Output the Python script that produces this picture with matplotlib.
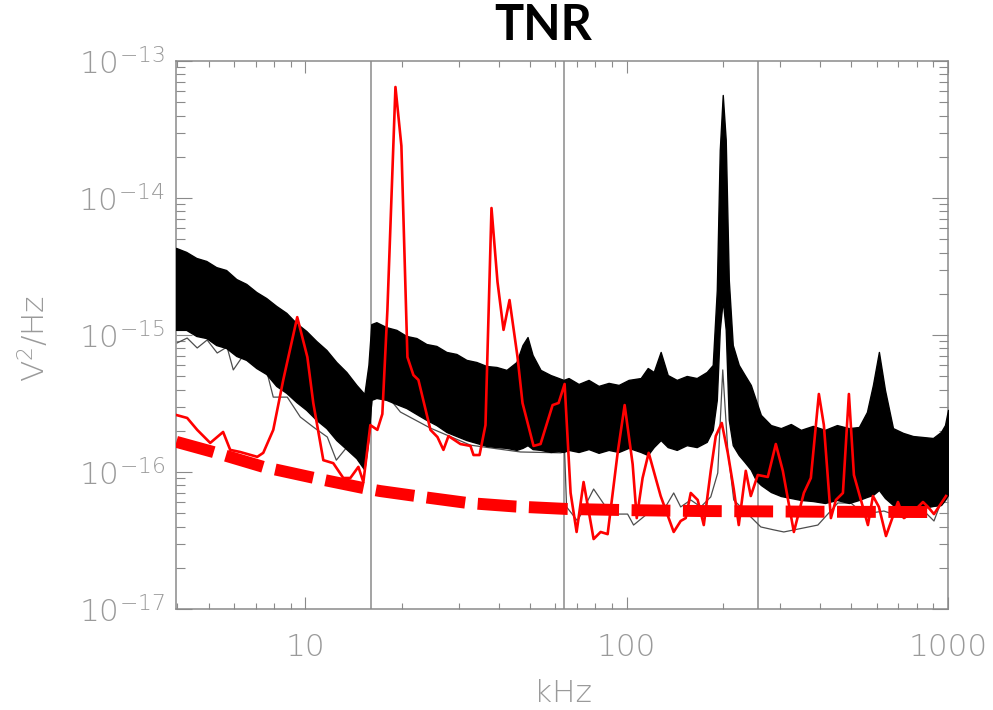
import matplotlib
matplotlib.use("Agg")
import matplotlib.pyplot as plt
from matplotlib.ticker import LogLocator, NullFormatter

# frequencies in kHz, power spectral densities in V^2/Hz

# envelope of the black bundle of spectra
band_freq = [3.96, 4.26, 4.58, 4.92, 5.28, 5.67, 6.10, 6.55, 7.04, 7.56, 8.12, 8.73,
             9.38, 10.07, 10.82, 11.63, 12.49, 13.42, 14.42, 15.27, 15.72, 16.05,
             16.64, 17.88, 19.21, 20.63, 22.17, 23.82, 25.58, 27.49, 29.53, 31.73, 34.08,
             36.62, 39.36, 42.28, 45.42, 47.42, 49.16, 50.96, 53.96, 57.98, 61.41, 63.65,
             65.95, 70.86, 76.13, 81.79, 87.87, 94.43, 101.4, 110.6, 116.3, 121.4, 127.6,
             134.2, 143.2, 153.8, 165.2, 177.5, 185.3, 190.8, 194.9, 199.1, 203.4, 207.9,
             213.9, 223.3, 233.1, 243.4, 252.3,
             261.6, 281.0, 301.9, 324.3, 348.4, 379.7, 414.0, 451.2, 491.6, 528.2, 559.4,
             584.0, 609.5, 636.6, 674.2, 724.2, 778.0, 835.9, 898.0, 951.0, 978.8, 1000]
band_upper = [4.32e-15, 4.04e-15, 3.65e-15, 3.47e-15, 3.13e-15, 2.98e-15, 2.56e-15, 2.36e-15,
              2.06e-15, 1.86e-15, 1.63e-15, 1.45e-15, 1.22e-15, 1.07e-15, 9.04e-16, 7.78e-16,
              6.35e-16, 5.37e-16, 4.32e-16, 3.71e-16, 6.04e-16, 1.20e-15,
              1.24e-15, 1.14e-15, 1.09e-15, 9.84e-16, 9.50e-16, 8.59e-16, 8.32e-16, 7.52e-16,
              7.27e-16, 6.58e-16, 6.35e-16, 5.94e-16, 5.84e-16, 5.56e-16, 6.35e-16, 8.45e-16,
              9.66e-16, 7.15e-16, 5.56e-16, 5.10e-16, 4.85e-16, 4.70e-16,
              4.85e-16, 4.39e-16, 4.70e-16, 4.25e-16, 4.47e-16, 4.32e-16, 4.70e-16, 4.85e-16,
              5.74e-16, 5.37e-16, 7.52e-16, 5.10e-16, 4.70e-16, 5.02e-16, 4.85e-16, 5.37e-16,
              6.04e-16, 2.13e-15, 2.24e-14, 5.65e-14, 2.65e-14, 2.52e-15, 8.45e-16, 6.04e-16,
              5.10e-16, 4.32e-16, 3.36e-16,
              2.61e-16, 2.20e-16, 2.09e-16, 2.24e-16, 2.03e-16, 2.17e-16, 2.03e-16, 2.20e-16,
              2.09e-16, 2.13e-16, 2.74e-16, 4.32e-16, 7.52e-16, 3.97e-16, 2.09e-16, 1.93e-16,
              1.83e-16, 1.80e-16, 1.77e-16, 1.96e-16, 2.20e-16, 2.84e-16]
band_lower = [1.09e-15, 1.09e-15, 9.84e-16, 9.50e-16, 8.45e-16, 8.04e-16, 7.03e-16, 6.58e-16,
              5.74e-16, 5.19e-16, 4.25e-16, 3.78e-16, 3.24e-16, 2.84e-16, 2.40e-16, 2.09e-16,
              1.71e-16, 1.47e-16, 1.26e-16, 1.04e-16, 1.71e-16, 3.36e-16,
              3.47e-16, 3.36e-16, 3.13e-16, 2.93e-16, 2.65e-16, 2.40e-16, 2.20e-16, 1.96e-16,
              1.83e-16, 1.71e-16, 1.63e-16, 1.55e-16, 1.52e-16, 1.50e-16, 1.45e-16, 1.50e-16,
              1.57e-16, 1.47e-16, 1.45e-16, 1.40e-16, 1.42e-16, 1.40e-16,
              1.45e-16, 1.40e-16, 1.47e-16, 1.38e-16, 1.45e-16, 1.40e-16, 1.50e-16, 1.40e-16,
              1.33e-16, 1.52e-16, 1.71e-16, 1.52e-16, 1.45e-16, 1.57e-16, 1.52e-16, 1.66e-16,
              2.03e-16, 3.36e-16, 1.09e-15, 1.80e-15, 1.09e-15, 2.40e-16, 1.57e-16, 1.33e-16,
              1.18e-16, 1.04e-16, 8.75e-17,
              8.04e-17, 7.15e-17, 6.68e-17, 6.46e-17, 6.25e-17, 6.14e-17, 5.94e-17, 6.25e-17,
              5.94e-17, 6.25e-17, 6.58e-17, 6.80e-17, 7.39e-17, 6.46e-17, 5.74e-17, 5.56e-17,
              5.65e-17, 5.46e-17, 5.65e-17, 5.74e-17, 6.25e-17, 6.80e-17]

# single quiet spectrum (grey)
grey_freq = [3.99, 4.29, 4.61, 4.95, 5.32, 5.71, 5.97, 6.36, 6.89, 7.61, 7.95, 8.79, 9.65,
             10.59, 11.71, 12.49, 13.81, 15.16, 15.72, 16.17, 18.01, 19.77, 24.52, 32.66,
             46.75, 62.29, 64.12, 65.03, 70.36, 78.93, 89.18, 100.7, 105.1, 118.8, 130.4,
             140.1, 147.3, 158.3, 170.1, 182.7, 192.1, 199.1, 206.4, 215.4, 226.5, 243.4,
             261.6, 287.1, 308.4, 393.6, 454.2, 498.7, 547.4, 631.9, 729.4, 842.0, 904.4, 985.8]
grey_psd = [8.75e-16, 9.50e-16, 8.04e-16, 9.20e-16, 7.39e-16, 8.17e-16, 5.56e-16, 6.90e-16,
            6.25e-16, 5.28e-16, 3.52e-16, 3.52e-16, 2.52e-16, 2.13e-16, 1.80e-16, 1.22e-16,
            1.63e-16, 1.22e-16, 1.71e-16, 3.52e-16, 3.59e-16, 2.74e-16, 2.09e-16, 1.57e-16,
            1.40e-16, 1.38e-16, 1.40e-16, 5.56e-17, 4.39e-17, 7.51e-17, 4.93e-17, 4.93e-17,
            4.10e-17, 5.19e-17, 5.28e-17, 7.03e-17, 5.56e-17, 6.25e-17, 5.56e-17, 6.58e-17,
            9.84e-17, 5.56e-16, 1.45e-16, 6.25e-17, 5.56e-17, 4.70e-17, 3.97e-17, 3.78e-17,
            3.65e-17, 4.10e-17, 5.94e-17, 5.94e-17, 4.93e-17, 5.19e-17, 4.61e-17, 5.19e-17,
            4.39e-17, 7.51e-17]

# red spectrum
red_freq = [3.96, 4.29, 4.61, 5.06, 5.55, 5.84, 6.27, 7.09, 7.40, 7.95, 8.54, 9.44, 10.15,
            10.59, 11.38, 12.22, 13.13, 13.81, 14.63, 15.16, 15.94, 16.76, 17.37, 18.01,
            19.08, 19.91, 20.79, 21.70, 22.49, 24.52, 25.78, 26.91, 27.90, 30.40, 32.66,
            33.38, 34.85, 36.37, 37.97, 39.64, 41.39, 43.21, 45.76, 47.42, 51.32, 53.96,
            58.83, 61.41, 64.12, 66.93, 69.87, 73.45, 78.93, 82.99, 87.27, 93.76, 98.58,
            104.4, 107.5, 112.1, 117.1, 123.1, 127.6, 140.1, 147.3, 152.7, 158.3, 166.4,
            173.8, 182.7, 189.4, 197.7, 206.4, 215.4, 223.3, 234.8, 243.4, 255.9, 275.0,
            291.2, 306.2, 331.4, 356.0, 374.3, 396.4, 410.9, 432.1, 447.9, 471.0, 491.6,
            509.6, 535.8, 563.4, 584.0, 609.5, 641.2, 698.7, 729.4, 783.8, 835.9, 866.3,
            904.4, 985.8]
red_psd = [2.61e-16, 2.48e-16, 2.03e-16, 1.63e-16, 1.96e-16, 1.45e-16, 1.40e-16, 1.29e-16,
           1.38e-16, 2.03e-16, 4.70e-16, 1.35e-15, 6.90e-16, 3.19e-16, 1.22e-16, 1.16e-16,
           9.04e-17, 9.04e-17, 1.09e-16, 8.45e-17, 2.20e-16, 2.03e-16, 2.65e-16, 1.52e-15,
           6.46e-14, 2.40e-14, 6.90e-16, 5.10e-16, 4.70e-16, 2.03e-16, 1.80e-16, 1.45e-16,
           1.83e-16, 1.60e-16, 1.55e-16, 1.33e-16, 1.33e-16, 2.20e-16, 8.45e-15, 2.44e-15,
           1.09e-15, 1.80e-15, 6.90e-16, 3.19e-16, 1.55e-16, 1.60e-16, 3.08e-16, 3.19e-16,
           4.39e-16, 7.03e-17, 3.65e-17, 8.45e-17, 3.24e-17, 3.65e-17, 3.52e-17, 1.38e-16,
           3.08e-16, 1.14e-16, 4.61e-17, 9.04e-17, 1.38e-16, 9.04e-17, 6.68e-17, 3.65e-17,
           4.39e-17, 4.61e-17, 7.03e-17, 6.25e-17, 4.10e-17, 1.02e-16, 1.83e-16, 2.28e-16,
           1.38e-16, 7.51e-17, 4.10e-17, 1.02e-16, 6.68e-17, 9.51e-17, 9.20e-17, 1.60e-16,
           1.02e-16, 3.65e-17, 7.03e-17, 9.04e-17, 3.71e-16, 2.20e-16, 4.61e-17, 6.25e-17,
           7.03e-17, 3.71e-16, 9.51e-17, 6.25e-17, 4.10e-17, 6.68e-17, 5.56e-17, 3.41e-17,
           6.04e-17, 4.61e-17, 5.19e-17, 6.04e-17, 5.56e-17, 4.93e-17, 6.68e-17]

# red dashed noise floor
floor_freq = [3.97, 5.17, 7.40, 10.7, 15.2, 17.1, 24.0, 32.0, 45.0, 65.5, 100, 170, 400, 940]
floor_psd = [1.66e-16, 1.40e-16, 1.09e-16, 9.03e-17, 7.63e-17, 7.26e-17, 6.50e-17, 5.94e-17,
             5.60e-17, 5.37e-17, 5.27e-17, 5.19e-17, 5.13e-17, 5.10e-17]

band_edges = [16, 64, 256]

x_ticks = [10, 100, 1000]
x_labels = ['10', '100', '1000']
y_ticks = [1e-17, 1e-16, 1e-15, 1e-14, 1e-13]
y_labels = [r'$10^{-17}$', r'$10^{-16}$', r'$10^{-15}$', r'$10^{-14}$', r'$10^{-13}$']

label_grey = '#9a9a9a'
axis_grey = '#8a8a8a'

plt.rcParams['font.family'] = ['DejaVu Sans']
plt.rcParams['font.weight'] = 'light'
plt.rcParams['mathtext.fontset'] = 'custom'
plt.rcParams['mathtext.rm'] = 'DejaVu Sans:light'
plt.rcParams['mathtext.it'] = 'DejaVu Sans:light'

fig = plt.figure(figsize=(9.93, 7.10), dpi=100)
ax = fig.add_axes([176 / 993, 1 - 609 / 710, 772 / 993, 548 / 710])
ax.set_xscale('log')
ax.set_yscale('log')

for f in band_edges:
    ax.axvline(f, color=axis_grey, lw=1.1, zorder=1)

ax.plot(grey_freq, grey_psd, color='#4d4d4d', lw=0.9, zorder=2)
ax.fill_between(band_freq, band_lower, band_upper, facecolor='black',
                edgecolor='black', lw=1.0, zorder=3)
ax.plot(red_freq, red_psd, color='#ff0000', lw=1.9, zorder=4)
floor, = ax.plot(floor_freq, floor_psd, color='#ff0000', lw=8.6, zorder=5,
                 solid_capstyle='butt', dash_capstyle='butt')
floor.set_dashes([3.25, 1.05])

ax.set_xlim(3.96, 1000)
ax.set_ylim(1e-17, 1e-13)

ax.set_xticks(x_ticks)
ax.set_xticklabels(x_labels)
ax.set_yticks(y_ticks)
ax.set_yticklabels(y_labels)
ax.xaxis.set_minor_locator(LogLocator(base=10, subs=range(2, 10), numticks=20))
ax.yaxis.set_minor_locator(LogLocator(base=10, subs=range(2, 10), numticks=20))
ax.xaxis.set_minor_formatter(NullFormatter())
ax.yaxis.set_minor_formatter(NullFormatter())

ax.tick_params(which='both', direction='in', top=True, right=True,
               color=axis_grey, width=0.8, labelcolor=label_grey, labelsize=22.5)
ax.tick_params(axis='x', which='major', length=8.6, pad=17)
ax.tick_params(axis='x', which='minor', length=4.2)
ax.tick_params(axis='y', which='major', length=11.5, pad=8)
ax.tick_params(axis='y', which='minor', length=6.2)
for s in ax.spines.values():
    s.set_color(axis_grey)
    s.set_linewidth(1.1)

fig.text(563 / 993, 1 - 694 / 710, 'kHz', ha='center', va='center',
         fontsize=22.5, color=label_grey)
fig.text(34 / 993, 1 - 338 / 710, r'V$^2$/Hz', ha='center', va='center',
         rotation=90, fontsize=22.5, color=label_grey)
fig.text(543 / 993, 1 - 26 / 710, 'TNR', ha='center', va='center',
         fontsize=35, fontweight='bold', family=['Lato', 'DejaVu Sans'], color='black')

fig.savefig('out.png', dpi=100)
